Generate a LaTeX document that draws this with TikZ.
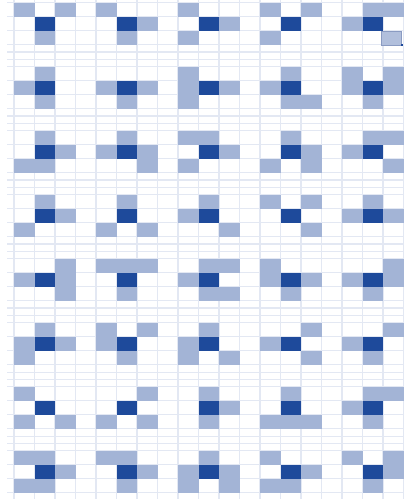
\documentclass[tikz,border=0pt]{standalone}
\definecolor{gridc}{HTML}{E3E8F3}
\definecolor{lightc}{HTML}{A3B4D6}
\definecolor{darkc}{HTML}{1E4A9B}
\definecolor{selc}{HTML}{8A9BC2}
\tikzset{
  lightcell/.style={fill=lightc},
  darkcell/.style={fill=darkc},
  gridline/.style={draw=gridc, line width=0.8pt},
  selcell/.style={fill=lightc!85!white, draw=selc, line width=0.9pt}
}
\newcommand\mypat[3]{%
  \foreach \r/\c in {#3} {
    \fill[lightcell] ({14+82*#2+20.5*(\c-1)},{2.7+64*#1+14*(\r-1)}) rectangle ++(20.5,14);
  }
  \fill[darkcell] ({14+82*#2+20.5},{2.7+64*#1+14}) rectangle ++(20.5,14);
}
\begin{document}
\begin{tikzpicture}[x=0.75pt,y=-0.75pt]
\useasboundingbox (0,0) rectangle (403,499);
\fill[white] (0,0) rectangle (403,499);
% grid
\foreach \k in {0,...,19} {
  \draw[gridline] ({14+20.5*\k},0) -- ({14+20.5*\k},499);
}
\foreach \i in {0,...,7} {
  \foreach \r in {0,1,2,3} {
    \draw[gridline] (7,{2.7+64*\i+14*\r}) -- (403,{2.7+64*\i+14*\r});
  }
  \foreach \k in {1,2} {
    \draw[gridline] (7,{2.7+64*\i+42+7.33*\k}) -- (403,{2.7+64*\i+42+7.33*\k});
  }
}
% row 0
\mypat{0}{0}{1/1,1/3,3/2}
\mypat{0}{1}{1/1,2/3,3/2}
\mypat{0}{2}{1/1,2/3,3/1}
\mypat{0}{3}{1/1,1/3,3/1}
\mypat{0}{4}{1/2,1/3,2/1}
% row 1
\mypat{1}{0}{1/2,2/1,3/2}
\mypat{1}{1}{2/1,2/3,3/2}
\mypat{1}{2}{1/1,2/1,3/1,2/3}
\mypat{1}{3}{1/2,2/1,3/2,3/3}
\mypat{1}{4}{1/1,2/1,3/2,1/3,2/3}
% row 2
\mypat{2}{0}{1/2,2/3,3/1,3/2}
\mypat{2}{1}{1/2,2/1,2/3,3/3}
\mypat{2}{2}{1/1,1/2,2/3,3/1}
\mypat{2}{3}{1/2,2/3,3/1,3/3}
\mypat{2}{4}{1/2,1/3,2/1,3/3}
% row 3
\mypat{3}{0}{1/2,2/3,3/1}
\mypat{3}{1}{1/2,3/1,3/3}
\mypat{3}{2}{1/2,2/1,3/3}
\mypat{3}{3}{1/1,1/3,3/3}
\mypat{3}{4}{1/2,2/1,2/3}
% row 4
\mypat{4}{0}{2/1,1/3,2/3,3/3}
\mypat{4}{1}{1/1,1/2,1/3,3/2}
\mypat{4}{2}{1/2,1/3,2/1,3/2,3/3}
\mypat{4}{3}{1/1,2/1,2/3,3/2}
\mypat{4}{4}{2/1,1/3,2/3,3/2}
% row 5
\mypat{5}{0}{1/2,2/1,2/3,3/1}
\mypat{5}{1}{1/1,2/1,1/3,3/2}
\mypat{5}{2}{1/2,2/1,3/1,3/3}
\mypat{5}{3}{1/3,2/1,3/3}
\mypat{5}{4}{1/3,2/1,3/2}
% row 6
\mypat{6}{0}{1/1,3/1,3/3}
\mypat{6}{1}{1/3,3/1,3/3}
\mypat{6}{2}{1/2,2/3,3/2}
\mypat{6}{3}{1/2,3/1,3/2,3/3}
\mypat{6}{4}{1/2,1/3,2/1,3/2}
% row 7
\mypat{7}{0}{1/1,1/2,2/3,3/1,3/2}
\mypat{7}{1}{1/1,1/2,2/3,3/2}
\mypat{7}{2}{1/2,2/1,3/1,2/3,3/3}
\mypat{7}{3}{1/1,2/3,3/1,3/2}
\mypat{7}{4}{1/1,1/3,2/3,3/2}
% selected cell with fill handle
\draw[selcell] (381.5,31.2) rectangle (401.8,45.2);
\fill[darkc] (400.6,43.6) rectangle (403,46.4);
\end{tikzpicture}
\end{document}
